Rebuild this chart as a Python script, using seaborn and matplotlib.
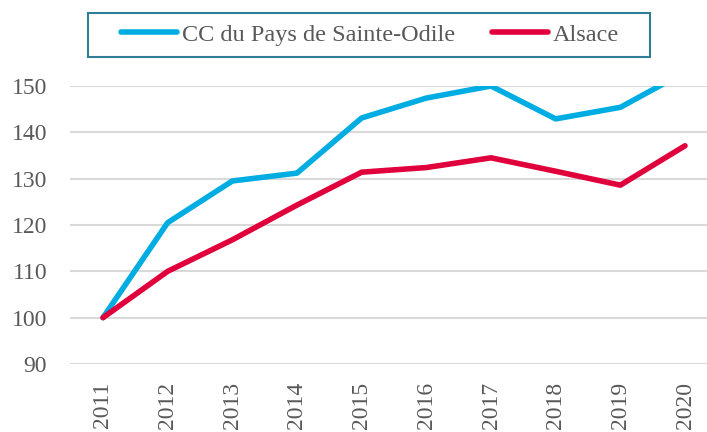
import matplotlib
matplotlib.use("Agg")
import matplotlib.pyplot as plt
import seaborn as sns
import pandas as pd
from matplotlib.lines import Line2D
from matplotlib.patches import Rectangle

years = ["2011", "2012", "2013", "2014", "2015", "2016", "2017", "2018", "2019", "2020"]
cc_values = [100, 120.5, 129.5, 131.2, 143.1, 147.4, 150.0, 142.9, 145.4, 153.0]
alsace_values = [100, 110.0, 116.8, 124.3, 131.4, 132.4, 134.5, 131.6, 128.6, 137.1]
series_names = ["CC du Pays de Sainte-Odile", "Alsace"]
colors = ["#00ADE2", "#E0003B"]
yticks = [90, 100, 110, 120, 130, 140, 150]

df = pd.DataFrame({
    "year": years * 2,
    "x": list(range(len(years))) * 2,
    "value": cc_values + alsace_values,
    "series": [series_names[0]] * len(years) + [series_names[1]] * len(years),
})

sns.set_theme(style="white")
plt.rcParams["font.family"] = ["Liberation Serif", "DejaVu Serif"]

W, H = 707, 432
fig = plt.figure(figsize=(W / 100, H / 100), dpi=100)
ax = fig.add_axes([70 / W, 1 - 364 / H, (W - 70) / W, (364 - 86) / H])

sns.lineplot(data=df, x="x", y="value", hue="series", palette=colors,
             linewidth=4, ax=ax, legend=False, solid_capstyle="round")

ax.set_xlim(-0.51, 9.34)
ax.set_ylim(90, 150)
ax.set_yticks(yticks)
ax.set_yticklabels([str(t) for t in yticks])
ax.set_xticks(range(len(years)))
ax.set_xticklabels(years, rotation=90)
ax.grid(axis="y", color="#D9D9D9", linewidth=1.5)
ax.set_axisbelow(True)
for s in ax.spines.values():
    s.set_visible(False)
ax.tick_params(axis="both", length=0, labelsize=17, colors="#595959")
ax.tick_params(axis="y", pad=16.5)
ax.tick_params(axis="x", pad=13)
ax.set_xlabel("")
ax.set_ylabel("")

# legend box
fig.patches.append(Rectangle((88 / W, 1 - 57 / H), (650 - 88) / W, (57 - 13) / H,
                             transform=fig.transFigure, fill=False,
                             edgecolor="#2F7E96", linewidth=1.5, zorder=5))
handles = [Line2D([0], [0], color=c, linewidth=4, solid_capstyle="round") for c in colors]
leg = fig.legend(handles, series_names, loc="center", bbox_to_anchor=(370 / W, 1 - 35 / H),
                 ncol=2, frameon=False, fontsize=17.5, handlelength=2.3,
                 handletextpad=0.2, columnspacing=1.5, borderpad=0.3)
for t in leg.get_texts():
    t.set_color("#595959")

fig.savefig("out.png", dpi=100)
